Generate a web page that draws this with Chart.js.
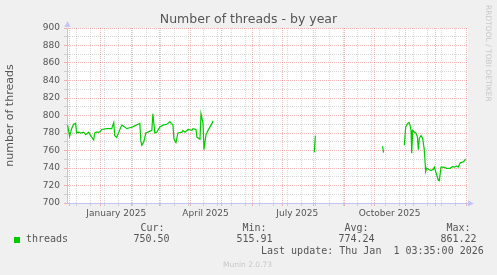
<!DOCTYPE html>
<html>
<head>
<meta charset="utf-8">
<script src="https://cdn.jsdelivr.net/npm/chart.js@4/dist/chart.umd.min.js"></script>
<style>
  html, body { margin: 0; padding: 0; background: #f0f0f0; }
  #wrap { position: relative; width: 497px; height: 275px; overflow: hidden; }
  #chart { position: absolute; left: 0; top: 0; }
  .mono { position: absolute; font: 10px 'DejaVu Sans Mono', monospace; line-height: 10px; color: #555; white-space: pre; }
  .box { position: absolute; left: 14px; top: 237px; width: 6px; height: 6px; background: #00cc00; }
  .small { position: absolute; font: 7.5px 'DejaVu Sans', sans-serif; line-height: 7.5px; color: #c8c8c8; white-space: pre; }
  .vert { writing-mode: vertical-rl; left: 484px; top: 5px; }
</style>
</head>
<body>
<div id="wrap">
  <canvas id="chart" width="497" height="275"></canvas>
  <div id="legend"></div>
  <div class="small vert">RRDTOOL / TOBI OETIKER</div>
  <div class="small" style="left:223px; top:260.5px">Munin 2.0.73</div>
</div>
<script>
// days counted from 1 Jan 2025, null = no data
var days = [
  -33, -31, -29, -27, -25, -24, -22, -20, -17, -15, -12, -10, -7, -6, -4, -1, 1, 6, 11, 13,
  14, 16, 18, 21, 24, 26, 29, 32, 37, 39, 40, 41, 43, 45, 47, 51, 52, 54, 56, 59,
  62, 66, 69, 71, 72, 73, 75, 77, 81, 82, 84, 87, 91, 92, 95, 96, 99, 100, 102, 103,
  105, 107, 109, 111, 112,
  113,
  213, 214,
  215,
  281, 282,
  283,
  302.7, 304.1, 306.1, 307.4, 308.4, 309.4, 310.1, 311.1, 312.4, 314.1, 315.7, 316.7, 317.7, 319.3, 321,
  322.6, 324, 325, 326.7, 329.3, 331.6, 332.6, 334, 336.6, 337.6, 339.3, 341.6, 345, 348.3, 350.6,
  352.6, 355, 356.5, 358.5, 361.5, 363.9
];
var threads = [
  789, 776, 785, 790, 791, 780, 781, 780, 781, 778, 781, 777, 772, 780, 781, 781, 784, 785, 785, 792,
  777, 775, 781, 789, 787, 785, 786, 787, 790, 791, 771, 766, 770, 780, 781, 783, 802, 780, 781, 787,
  789, 790, 793, 790, 790, 773, 769, 780, 781, 783, 781, 784, 783, 785, 784, 775, 773, 802, 791, 761,
  778, 783, 787, 791, 794,
  null,
  758, 777,
  null,
  765, 757.5,
  null,
  766, 787, 791, 792, 789, 783, 757, 783, 781.5, 780, 776, 761, 774, 777, 774,
  761, 736, 740, 738.5, 737, 738.5, 741, 736, 726, 725.6, 741, 741, 739.6, 739.6, 741.5,
  741, 742.3, 741, 746, 747, 750
];

// x axis: month starts (red), every other week (grey), label positions
var monthStarts = [-31, 0, 31, 59, 90, 120, 151, 181, 212, 243, 273, 304, 334, 365];
var minorDays = [-24, -10, 4, 18, 32, 46, 60, 74, 88, 102, 116, 130, 144, 158, 172, 186, 200,
  214, 228, 242, 256, 270, 284, 298, 312, 326, 340, 354];
var labelDays = [15.5, 104.5, 196, 288];
var labelTexts = ['January 2025', 'April 2025', 'July 2025', 'October 2025'];

var statNames = ['Cur:', 'Min:', 'Avg:', 'Max:'];
var statValues = ['750.50', '515.91', '774.24', '861.22'];
var lastUpdate = 'Last update: Thu Jan  1 03:35:00 2026';

var majorColor = 'rgba(230, 70, 70, 0.38)';
var minorColor = 'rgba(150, 150, 150, 0.38)';
var axisColor = '#c4c4f4';
var textColor = '#555';

// legend under the chart
var legend = document.getElementById('legend');
function addText(txt, left, top) {
  var d = document.createElement('div');
  d.className = 'mono';
  d.style.left = left + 'px';
  d.style.top = top + 'px';
  d.textContent = txt;
  legend.appendChild(d);
}
var box = document.createElement('div');
box.className = 'box';
legend.appendChild(box);
addText('threads', 26, 234);
var nameLeft = [140.5, 242.5, 344.5, 446.5];
var valueLeft = [133.5, 236.5, 338.5, 440.5];
for (var i = 0; i < statNames.length; i++) {
  addText(statNames[i], nameLeft[i], 222.5);
  addText(statValues[i], valueLeft[i], 234);
}
addText(lastUpdate, 261, 246);

var plotBackground = {
  id: 'plotBackground',
  beforeDraw: function (chart) {
    var a = chart.chartArea;
    var ctx = chart.ctx;
    ctx.save();
    ctx.fillStyle = '#ffffff';
    ctx.fillRect(a.left, a.top, a.right - a.left, a.bottom - a.top);
    ctx.restore();
  }
};

var axisArrows = {
  id: 'axisArrows',
  afterDraw: function (chart) {
    var a = chart.chartArea;
    var ctx = chart.ctx;
    ctx.save();
    ctx.fillStyle = axisColor;
    ctx.beginPath();
    ctx.moveTo(a.left - 2.5, a.top - 1);
    ctx.lineTo(a.left + 3.5, a.top - 1);
    ctx.lineTo(a.left + 0.5, a.top - 7);
    ctx.closePath();
    ctx.fill();
    ctx.beginPath();
    ctx.moveTo(a.right, a.bottom - 2.5);
    ctx.lineTo(a.right, a.bottom + 3.5);
    ctx.lineTo(a.right + 6, a.bottom + 0.5);
    ctx.closePath();
    ctx.fill();
    ctx.restore();
  }
};

function xGridColor(ctx) {
  var v = ctx.tick ? ctx.tick.value : null;
  if (monthStarts.indexOf(v) >= 0) return majorColor;
  if (minorDays.indexOf(v) >= 0) return minorColor;
  return 'rgba(0,0,0,0)';
}
function yGridColor(ctx) {
  var v = ctx.tick ? ctx.tick.value : 0;
  return v % 20 === 0 ? majorColor : minorColor;
}

Chart.defaults.font.family = "'DejaVu Sans', sans-serif";
Chart.defaults.color = textColor;

var ctx = document.getElementById('chart');
var myChart = new Chart(ctx, {
  type: 'line',
  data: {
    datasets: [{
      label: 'threads',
      data: days.map(function (d, i) { return { x: d, y: threads[i] }; }),
      borderColor: '#00cc00',
      borderWidth: 1.2,
      pointRadius: 0,
      tension: 0,
      spanGaps: false
    }]
  },
  options: {
    responsive: false,
    animation: false,
    events: [],
    layout: { padding: { left: 0, right: 0, top: 0, bottom: 54 } },
    plugins: {
      legend: { display: false },
      tooltip: { enabled: false },
      title: {
        display: true,
        text: 'Number of threads - by year',
        color: textColor,
        font: { size: 12.5, weight: 'normal' },
        padding: { top: 12, bottom: 1 }
      }
    },
    scales: {
      x: {
        type: 'linear',
        min: -33.6,
        max: 366.2,
        afterBuildTicks: function (scale) {
          var vals = monthStarts.concat(minorDays.filter(function (v) {
            return monthStarts.indexOf(v) < 0;
          }), labelDays);
          vals.sort(function (a, b) { return a - b; });
          scale.ticks = vals.filter(function (v) { return v >= scale.min && v <= scale.max; })
            .map(function (v) { return { value: v }; });
        },
        afterFit: function (scale) { scale.height = 18; },
        ticks: {
          autoSkip: false,
          maxRotation: 0,
          padding: 2,
          font: { size: 9 },
          color: textColor,
          callback: function (value) {
            var i = labelDays.indexOf(value);
            return i >= 0 ? labelTexts[i] : '';
          }
        },
        grid: {
          color: xGridColor,
          tickColor: xGridColor,
          tickLength: 3,
          lineWidth: 1
        },
        border: { color: axisColor, width: 1, dash: [1, 1] }
      },
      y: {
        min: 700,
        max: 900,
        afterFit: function (scale) { scale.width = 67; },
        ticks: {
          stepSize: 10,
          autoSkip: false,
          padding: 4,
          font: { size: 9 },
          color: textColor,
          callback: function (value) { return value % 20 === 0 ? value : ''; }
        },
        grid: {
          color: yGridColor,
          tickColor: yGridColor,
          tickLength: 3,
          lineWidth: 1
        },
        border: { color: axisColor, width: 1, dash: [1, 1] },
        title: {
          display: true,
          text: 'number of threads',
          color: textColor,
          font: { size: 11 },
          padding: { top: 4, bottom: 0 }
        }
      },
      // empty strip on the right, keeps the plot narrower than the title
      yr: {
        position: 'right',
        min: 700,
        max: 900,
        afterFit: function (scale) { scale.width = 29; },
        ticks: { display: false },
        grid: { display: false, drawTicks: false },
        border: { display: false }
      }
    }
  },
  plugins: [plotBackground, axisArrows]
});
</script>
</body>
</html>
